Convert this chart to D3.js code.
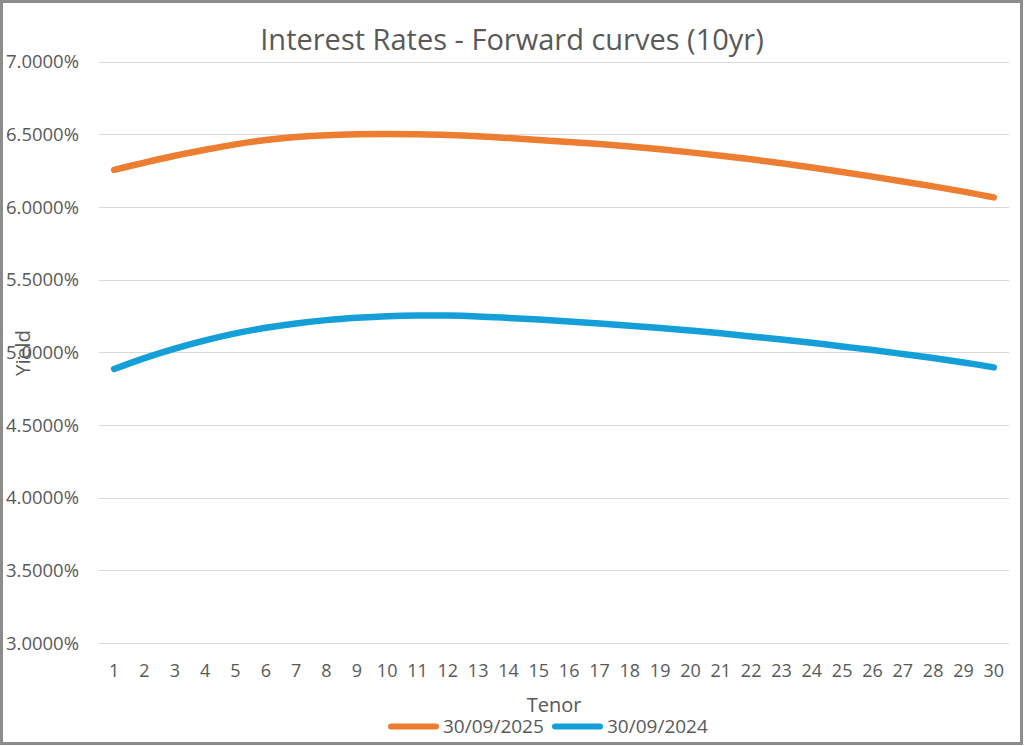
<!DOCTYPE html>
<html><head><meta charset="utf-8">
<script src="https://cdn.jsdelivr.net/npm/d3@7"></script>
<style>body{margin:0;background:#fff}svg{display:block}</style>
</head><body>
<svg id="c" width="1024" height="746"></svg>
<script>
const tenors = d3.range(1, 31);
const series2025 = [6.254,6.305,6.352,6.393,6.43,6.46,6.48,6.493,6.50,6.502,6.50,6.495,6.486,6.473,6.460,6.447,6.432,6.415,6.396,6.375,6.352,6.327,6.300,6.271,6.240,6.208,6.175,6.141,6.105,6.065];
const series2024 = [4.885,4.96,5.025,5.082,5.13,5.168,5.198,5.221,5.237,5.248,5.253,5.252,5.246,5.236,5.225,5.212,5.198,5.183,5.167,5.149,5.130,5.109,5.088,5.065,5.040,5.015,4.988,4.960,4.930,4.896];
const seriesNames = ["30/09/2025","30/09/2024"];
const seriesColors = ["#ED7D31","#149FD8"];
const yTicks = [3.0,3.5,4.0,4.5,5.0,5.5,6.0,6.5,7.0];
const title = "Interest Rates - Forward curves (10yr)";

const svg = d3.select("#c");
const W=1024,H=746;
const font = "'Open Sans', sans-serif";
const grey = "#595959";
svg.append("rect").attr("x",1.5).attr("y",1.5).attr("width",W-4).attr("height",H-4)
  .attr("fill","#fff").attr("stroke","#8c8c8c").attr("stroke-width",3);

const plot = {l:99,r:1009,t:61.5,b:643};
const x = d3.scaleBand().domain(tenors).range([plot.l,plot.r]);
const y = d3.scaleLinear().domain([3,7]).range([plot.b,plot.t]);
const cx = d => x(d)+x.bandwidth()/2;

// grid
svg.append("g").selectAll("line").data(yTicks).join("line")
  .attr("x1",plot.l).attr("x2",plot.r)
  .attr("y1",d=>Math.round(y(d))+0.5).attr("y2",d=>Math.round(y(d))+0.5)
  .attr("stroke","#d9d9d9").attr("stroke-width",1.2);

// y labels
svg.append("g").selectAll("text").data(yTicks).join("text")
  .attr("x",79).attr("y",d=>y(d)).attr("dy","0.36em")
  .attr("text-anchor","end").attr("font-family",font).attr("font-size",18.5)
  .attr("fill",grey).text(d=>d.toFixed(4)+"%");

// x labels
svg.append("g").selectAll("text").data(tenors).join("text")
  .attr("x",cx).attr("y",677)
  .attr("text-anchor","middle").attr("font-family",font).attr("font-size",18)
  .attr("fill",grey).text(d=>d);

// lines
const line = d3.line().x((d,i)=>cx(tenors[i])).y(d=>y(d)).curve(d3.curveCatmullRom.alpha(0.5));
[series2025,series2024].forEach((s,i)=>{
  svg.append("path").attr("d",line(s)).attr("fill","none")
    .attr("stroke",seriesColors[i]).attr("stroke-width",6.5)
    .attr("stroke-linecap","round").attr("stroke-linejoin","round");
});

// title
svg.append("text").attr("x",512).attr("y",50).attr("text-anchor","middle")
  .attr("font-family",font).attr("font-size",29).attr("fill",grey).text(title);

// axis titles
svg.append("text").attr("x",(plot.l+plot.r)/2).attr("y",712).attr("text-anchor","middle")
  .attr("font-family",font).attr("font-size",20).attr("fill",grey).text("Tenor");
svg.append("text").attr("transform","translate(30,353) rotate(-90)").attr("text-anchor","middle")
  .attr("font-family",font).attr("font-size",20.5).attr("fill",grey).text("Yield");

// legend
const legX=[391,555];
seriesNames.forEach((n,i)=>{
  svg.append("line").attr("x1",legX[i]).attr("x2",legX[i]+45).attr("y1",726.5).attr("y2",726.5)
    .attr("stroke",seriesColors[i]).attr("stroke-width",6).attr("stroke-linecap","round");
  svg.append("text").attr("x",legX[i]+52).attr("y",726.5).attr("dy","0.36em")
    .attr("font-family",font).attr("font-size",19).attr("fill",grey).text(n);
});
</script>
</body></html>
